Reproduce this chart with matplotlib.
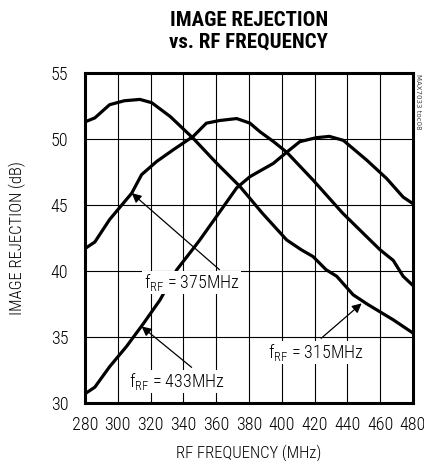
import matplotlib
matplotlib.use("Agg")
import matplotlib.pyplot as plt

# curves (MHz, dB)
f315_x = [280, 286, 295, 304, 313.5, 320.7, 332, 346, 360, 374.5, 388, 403, 412, 419, 427, 433.5, 443.5, 452, 460, 468, 474, 480]
f315_y = [51.3, 51.6, 52.6, 52.9, 53.0, 52.75, 51.7, 50.05, 48.2, 46.4, 44.4, 42.35, 41.6, 41.1, 40.1, 39.6, 38.2, 37.5, 36.9, 36.3, 35.8, 35.3]

f375_x = [280, 286, 295, 308.5, 314.5, 323.7, 334, 340, 346, 354, 362, 372.5, 380.6, 386.7, 395, 403, 419, 437, 453.8, 460, 468, 474, 480]
f375_y = [41.7, 42.2, 43.9, 45.9, 47.3, 48.3, 49.2, 49.7, 50.2, 51.2, 51.4, 51.55, 51.2, 50.55, 49.8, 49.0, 46.9, 44.4, 42.35, 41.6, 40.8, 39.6, 38.9]

f433_x = [280, 286, 295, 305.4, 315.5, 325.7, 336, 346, 350, 360, 372.5, 380.6, 394.8, 403, 411, 421, 429, 437.5, 451.8, 464, 474, 480]
f433_y = [30.7, 31.2, 32.75, 34.3, 36.0, 37.8, 40.1, 41.7, 42.35, 44.1, 46.3, 47.15, 48.15, 49.0, 49.8, 50.1, 50.2, 49.9, 48.4, 47.0, 45.6, 45.1]

x_ticks = list(range(280, 481, 20))
y_ticks = [30, 35, 40, 45, 50, 55]

narrow = "Roboto Condensed"

fig = plt.figure(figsize=(4.24, 4.61), dpi=100)
ax = fig.add_axes([0.2005, 0.1258, 0.7735, 0.7158])

for xs, ys in [(f315_x, f315_y), (f375_x, f375_y), (f433_x, f433_y)]:
    ax.plot(xs, ys, color="black", lw=2.3, solid_joinstyle="round", zorder=3)

ax.set_xlim(280, 480)
ax.set_ylim(30, 55)
ax.set_xticks(x_ticks)
ax.set_yticks(y_ticks)
ax.set_xticklabels([str(v) for v in x_ticks], fontfamily=narrow, fontweight=300, fontsize=13)
ax.set_yticklabels([str(v) for v in y_ticks], fontfamily=narrow, fontweight=300, fontsize=13)
ax.tick_params(axis="x", length=0, pad=9)
ax.tick_params(axis="y", length=0, pad=12)
ax.grid(True, color="black", lw=0.8)
for s in ax.spines.values():
    s.set_linewidth(2.2)

ax.set_xlabel("RF FREQUENCY (MHz)", fontfamily=narrow, fontweight=300, fontsize=12, labelpad=8)
ax.set_ylabel("IMAGE REJECTION (dB)", fontfamily=narrow, fontweight=300, fontsize=12, labelpad=18)

fig.text(0.587, 0.932, "IMAGE REJECTION\nvs. RF FREQUENCY", ha="center", va="center",
         fontfamily=narrow, fontweight="bold", fontsize=15, linespacing=1.15)

fig.text(0.987, 0.84, "MAX7033 toc08", rotation=270, ha="center", va="top",
         fontsize=5, color="#444444")

# labels with arrows
lbl = dict(fontfamily=narrow, fontweight=300, fontsize=13, ha="center", va="center",
           bbox=dict(facecolor="white", edgecolor="none", pad=1))
arw = dict(arrowstyle="-|>", color="black", lw=0.9, mutation_scale=14, shrinkA=0, shrinkB=0)
ax.annotate("", xy=(308.5, 45.9), xytext=(362, 40.1), arrowprops=arw, zorder=4)
ax.text(345, 39.1, r"$\mathregular{f_{RF}}$ = 375MHz", zorder=5, **lbl)
ax.annotate("", xy=(314.5, 35.8), xytext=(345, 32.7), arrowprops=arw, zorder=4)
ax.text(336, 31.6, r"$\mathregular{f_{RF}}$ = 433MHz", zorder=5, **lbl)
ax.annotate("", xy=(448.7, 37.55), xytext=(424, 34.9), arrowprops=arw, zorder=4)
ax.text(421, 33.8, r"$\mathregular{f_{RF}}$ = 315MHz", zorder=5, **lbl)

fig.savefig("out.png", dpi=100)
